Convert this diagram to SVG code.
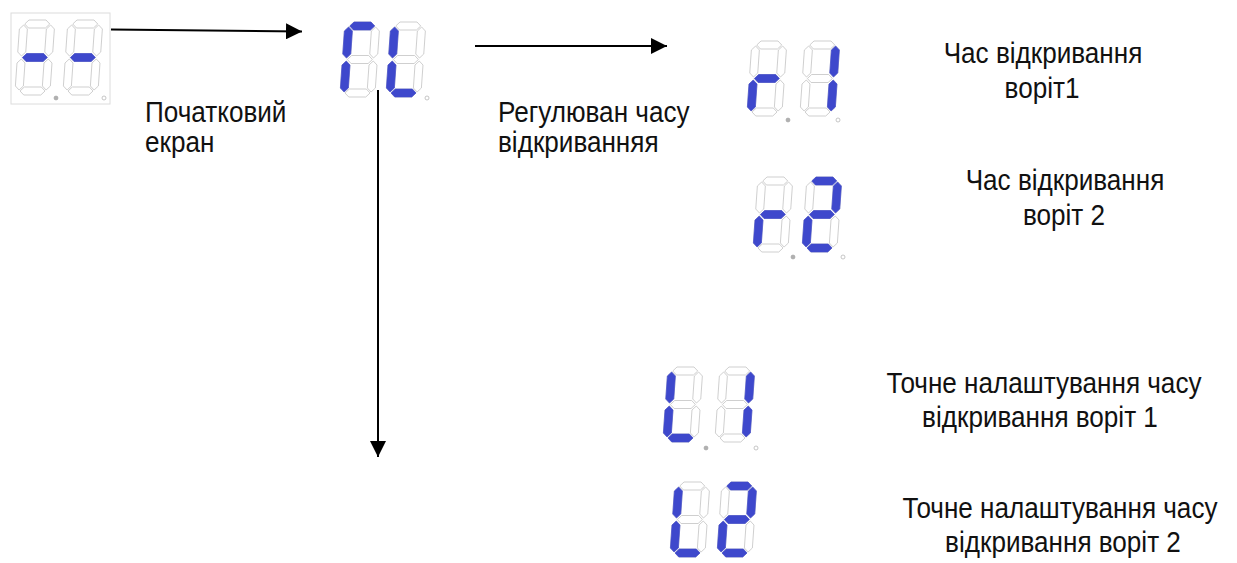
<svg xmlns="http://www.w3.org/2000/svg" xmlns:xlink="http://www.w3.org/1999/xlink" width="1237" height="563" viewBox="0 0 1237 563">
<style>
  .off { fill: #ffffff; stroke: #c4c4c4; stroke-width: 0.8; }
  .on { fill: #3e48cc; stroke: #3e48cc; stroke-width: 0.6; }
  .dot { fill: #ffffff; stroke: #b8b8b8; stroke-width: 0.8; }
  .dotg { fill: #b0b0b0; stroke: #a0a0a0; stroke-width: 0.6; }
  .frame { fill: #ffffff; stroke: #dcdcdc; stroke-width: 1; }
  .conn { stroke: #000000; stroke-width: 2; fill: none; marker-end: url(#ah); }
  .lbl { font-family: "Liberation Sans", Arial, sans-serif; font-size: 30px; fill: #111111; }
  .mid { text-anchor: middle; }
</style>
<defs>
  <marker id="ah" markerUnits="userSpaceOnUse" markerWidth="16" markerHeight="16" refX="16" refY="8" orient="auto" viewBox="0 0 16 16">
    <path d="M0,0 L16,8 L0,16 z" fill="#000000"/>
  </marker>
  <polygon id="sa" points="5,4 9,0 26,0 30,4 26,8 9,8"/>
  <polygon id="sg" points="5,37.5 9,33.5 26,33.5 30,37.5 26,41.5 9,41.5"/>
  <polygon id="sd" points="5,71 9,67 26,67 30,71 26,75 9,75"/>
  <polygon id="sf" points="4,5 8,9 8,32 4,36 0,32 0,9"/>
  <polygon id="sb" points="31,5 35,9 35,32 31,36 27,32 27,9"/>
  <polygon id="se" points="4,39 8,43 8,66 4,70 0,66 0,43"/>
  <polygon id="sc" points="31,39 35,43 35,66 31,70 27,66 27,43"/>
  <g id="d8" class="off">
    <use href="#sa"/><use href="#sb"/><use href="#sc"/><use href="#sd"/>
    <use href="#se"/><use href="#sf"/><use href="#sg"/>
  </g>
</defs>

<rect width="1237" height="563" fill="#ffffff"/>

<g id="connectors">
  <line class="conn" x1="111" y1="29.5" x2="302" y2="31.5"/>
  <line class="conn" x1="475" y1="46" x2="667" y2="46"/>
  <line class="conn" x1="378" y1="90" x2="378" y2="457"/>
</g>

<g id="node-start">
  <rect class="frame" x="11" y="13" width="99" height="91"/>
  <g transform="translate(20,20) skewX(-4)"><use href="#d8"/><use href="#sg" class="on"/></g>
  <g transform="translate(68,20) skewX(-4)"><use href="#d8"/><use href="#sg" class="on"/></g>
  <circle class="dotg" cx="56" cy="98" r="2"/>
  <circle class="dot" cx="104" cy="98" r="2"/>
  <text class="lbl" transform="translate(145,122) scale(0.87,1)">Початковий</text>
  <text class="lbl" transform="translate(145,152) scale(0.87,1)">екран</text>
</g>

<g id="node-cl">
  <g transform="translate(345,22) skewX(-4)"><use href="#d8"/><use href="#sa" class="on"/><use href="#sf" class="on"/><use href="#se" class="on"/></g>
  <g transform="translate(391,22) skewX(-4)"><use href="#d8"/><use href="#sf" class="on"/><use href="#se" class="on"/><use href="#sd" class="on"/></g>
  <circle class="dot" cx="427" cy="98" r="2"/>
  <text class="lbl" transform="translate(498,122) scale(0.87,1)">Регулюван часу</text>
  <text class="lbl" transform="translate(498,152) scale(0.87,1)">відкриванняя</text>
</g>

<g id="node-r1">
  <g transform="translate(752,41) skewX(-4)"><use href="#d8"/><use href="#sg" class="on"/><use href="#se" class="on"/></g>
  <g transform="translate(805,41) skewX(-4)"><use href="#d8"/><use href="#sb" class="on"/><use href="#sc" class="on"/></g>
  <circle class="dotg" cx="788" cy="120" r="2"/>
  <circle class="dot" cx="838" cy="120" r="2"/>
  <text class="lbl mid" transform="translate(1043,63) scale(0.87,1)">Час відкривання</text>
  <text class="lbl mid" transform="translate(1042,98) scale(0.87,1)">воріт1</text>
</g>

<g id="node-r2">
  <g transform="translate(758,177) skewX(-4)"><use href="#d8"/><use href="#sg" class="on"/><use href="#se" class="on"/></g>
  <g transform="translate(807,177) skewX(-4)"><use href="#d8"/><use href="#sa" class="on"/><use href="#sb" class="on"/><use href="#sg" class="on"/><use href="#se" class="on"/><use href="#sd" class="on"/></g>
  <circle class="dotg" cx="793" cy="257" r="2"/>
  <circle class="dot" cx="843" cy="257" r="2"/>
  <text class="lbl mid" transform="translate(1065,190) scale(0.87,1)">Час відкривання</text>
  <text class="lbl mid" transform="translate(1064,225) scale(0.87,1)">воріт 2</text>
</g>

<g id="node-u1">
  <g transform="translate(668,367) skewX(-4)"><use href="#d8"/><use href="#sf" class="on"/><use href="#se" class="on"/><use href="#sd" class="on"/></g>
  <g transform="translate(720,367) skewX(-4)"><use href="#d8"/><use href="#sb" class="on"/><use href="#sc" class="on"/></g>
  <circle class="dotg" cx="706" cy="448" r="2"/>
  <circle class="dot" cx="756" cy="448" r="2"/>
  <text class="lbl mid" transform="translate(1044,393) scale(0.87,1)">Точне налаштування часу</text>
  <text class="lbl mid" transform="translate(1040,427) scale(0.87,1)">відкривання воріт 1</text>
</g>

<g id="node-u2">
  <g transform="translate(675,482) skewX(-4)"><use href="#d8"/><use href="#sf" class="on"/><use href="#se" class="on"/><use href="#sd" class="on"/></g>
  <g transform="translate(722,482) skewX(-4)"><use href="#d8"/><use href="#sa" class="on"/><use href="#sb" class="on"/><use href="#sg" class="on"/><use href="#se" class="on"/><use href="#sd" class="on"/></g>
  <text class="lbl mid" transform="translate(1060,518) scale(0.87,1)">Точне налаштування часу</text>
  <text class="lbl mid" transform="translate(1063,552) scale(0.87,1)">відкривання воріт 2</text>
</g>
</svg>
